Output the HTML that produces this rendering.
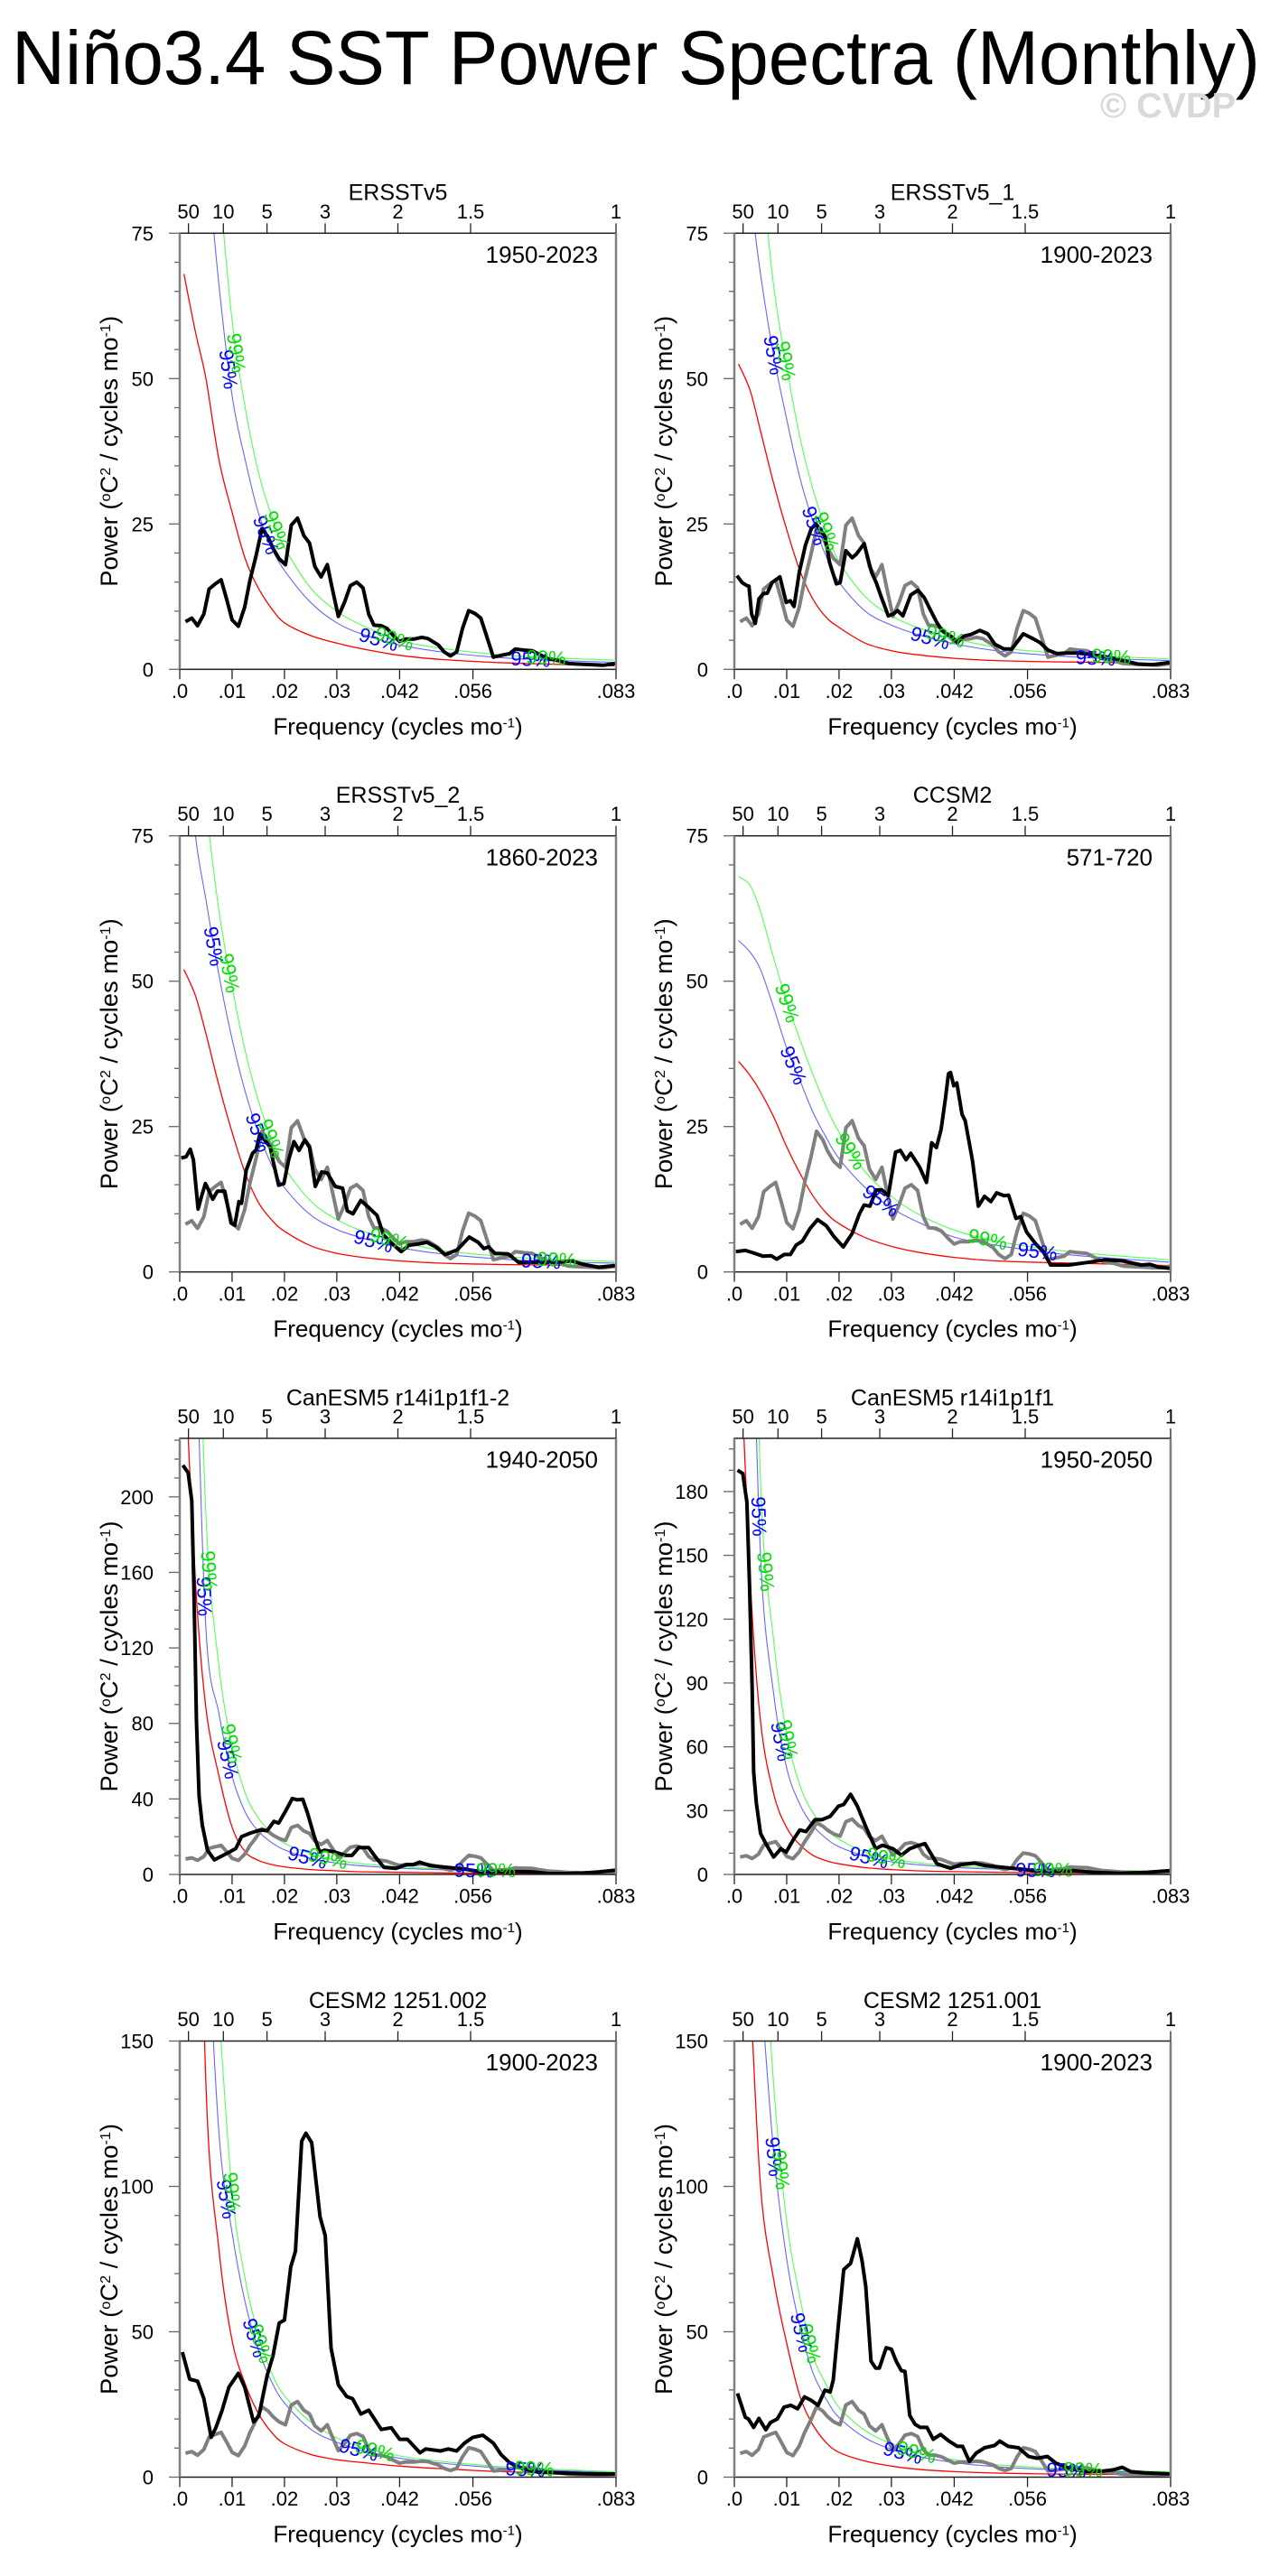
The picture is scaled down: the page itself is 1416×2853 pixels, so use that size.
<!DOCTYPE html>
<html>
<head>
<meta charset="utf-8">
<style>
html,body{margin:0;padding:0;background:#fff;}
svg{display:block;font-family:"Liberation Sans",Arial,sans-serif;}
</style>
</head>
<body>
<svg id="fig" xmlns="http://www.w3.org/2000/svg" width="1416" height="2853" viewBox="0 0 1416 2853">
  <rect x="0" y="0" width="1416" height="2853" fill="#fff"/>
  <text x="13" y="93" font-size="84" textLength="1382" lengthAdjust="spacingAndGlyphs" fill="#000">Niño3.4 SST Power Spectra (Monthly)</text>
  <text x="1218" y="130" font-size="39" font-weight="bold" fill="#d9d9d9" textLength="150" lengthAdjust="spacingAndGlyphs">© CVDP</text>
  <g id="panels"></g>
</svg>
<script>
// ---- shared frequency grid for red-noise / significance curves ----
const gridFreq = [0.0008,0.003,0.005,0.0075,0.01,0.0125,0.015,0.0175,0.02,0.025,0.03,0.035,0.042,0.05,0.06,0.07,0.083];

// ---- reference (ERSSTv5 1950-2023) spectrum, also drawn gray in other panels ----
const refFreq = [0.0011,0.0023,0.0034,0.0046,0.0056,0.0068,0.0079,0.009,0.01,0.0112,0.0124,0.0134,0.0146,0.0157,0.0169,0.0178,0.019,0.0202,0.0213,0.0225,0.0237,0.0248,0.0258,0.027,0.0282,0.0291,0.0303,0.0315,0.0326,0.0338,0.035,0.0361,0.0371,0.0385,0.0396,0.0408,0.042,0.0431,0.0447,0.0462,0.0474,0.0494,0.0505,0.0517,0.0529,0.054,0.0552,0.0564,0.0575,0.0587,0.0599,0.0614,0.063,0.0641,0.0657,0.0673,0.0688,0.0704,0.0723,0.0743,0.0762,0.0786,0.0809,0.0833];
const refPower = [8.2,8.8,7.5,9.5,13.8,14.7,15.4,11.9,8.5,7.4,10.7,15.3,19.6,24.2,22.7,20.8,19,18,24.8,26,23,21.7,17.7,15.9,18,14,9.1,11.6,14.4,15,14,9.5,7.6,7.5,7,5.8,4.8,5.2,5.2,5.5,5.3,4.2,3,2.3,3,7,10.1,9.6,8.8,5.5,2.1,2.4,2.7,3.5,3.3,3.2,2.5,1.8,1.5,1.0,0.9,0.8,0.7,1.0];
const red1 = [68,58,50,36,27,19,14,10.5,8,5.8,4.5,3.5,2.4,1.7,1.2,0.9,0.6];
const blue1 = [null,null,90,66,47,36,27,21,17,11.5,8,6,4.2,3,2.1,1.6,1.2];
const green1 = [null,null,null,84,60,45,34,26.5,21,14,10,7.5,5,3.6,2.6,2,1.6];

// ---- ERSSTv5_1 ----
const p2Freq = [0.0005,0.0015,0.0024,0.0028,0.0033,0.004,0.0047,0.0055,0.0063,0.0072,0.0087,0.0099,0.0107,0.0114,0.0124,0.0136,0.0147,0.0156,0.0164,0.0173,0.0182,0.0195,0.0202,0.0213,0.0225,0.0233,0.0248,0.0262,0.0271,0.028,0.0294,0.0303,0.0312,0.0322,0.0337,0.0351,0.0363,0.0374,0.0386,0.0397,0.0415,0.0426,0.0438,0.0452,0.0469,0.0484,0.0498,0.0515,0.053,0.0552,0.057,0.0584,0.0599,0.0616,0.0633,0.0656,0.0685,0.0714,0.0743,0.0771,0.08,0.0833];
const p2Power = [16.1,14.9,14.4,14.3,9.5,7.9,12.1,13,13.1,14.9,15.9,11.5,11.8,10.8,16.7,21.4,24.2,25,24,22.9,18.3,14.7,14.9,20.4,19.2,19.8,21.6,16.7,14.9,12.6,9.2,9.5,10.1,9.2,12.8,13.6,12.3,10.3,8.2,6.6,5.6,4.6,5.7,6,6.7,6.1,4.3,3.5,3.5,6.1,5.3,4.6,3.3,2.7,2.8,2.8,2.5,2.1,1.5,0.9,0.8,1.2];
const red2 = [52.5,48,41,32,24,17,12.1,9,7.2,4.5,3.2,2.5,1.9,1.5,1.3,1.2,0.9];
const blue2 = [null,82,68,54,43,33,25.5,19.5,15,10,7.6,6,4.4,3.2,2.4,1.9,1.5];
const green2 = [null,null,88,66,52,40,31,24,18.5,12.5,9.2,7.2,5.3,3.8,2.9,2.3,1.8];

// ---- ERSSTv5_2 ----
const p3Freq = [0.0003,0.0012,0.002,0.0026,0.0035,0.0042,0.0049,0.0055,0.0063,0.0072,0.0086,0.0098,0.0105,0.0113,0.0118,0.0127,0.0139,0.0146,0.0153,0.0162,0.0173,0.0179,0.0189,0.0199,0.0208,0.0218,0.0228,0.0239,0.0248,0.0259,0.0271,0.0282,0.0297,0.0311,0.032,0.0331,0.0346,0.0362,0.0377,0.0389,0.0403,0.0423,0.0438,0.0455,0.0472,0.0489,0.0507,0.053,0.0553,0.057,0.0581,0.059,0.0602,0.0627,0.0648,0.0668,0.0696,0.0725,0.0748,0.0771,0.08,0.0833];
const p3Power = [19.6,19.8,21.1,19.3,10.8,13.1,15.2,14.1,12.5,13.9,13.9,8.4,8,12.1,11.8,17.5,20.4,21,23.7,22.7,21.4,18.8,14.9,15.2,19.3,22.4,20.9,22.7,21.4,14.7,17.2,17,14.7,14.4,10.5,10,12.3,11,9.7,6.4,5.1,3.5,4.6,4.8,5.1,4.3,3,3.8,6,5.1,4,4.3,3.2,3.1,1.6,1.7,1.6,1.7,1.9,1.3,0.8,1.1];
const red3 = [52,47.5,41,32,24,17,12,9,7,4.5,3.2,2.5,1.9,1.5,1.3,1.2,1.0];
const blue3 = [95,75,64,51,40,31,24,18.5,14.5,9.8,7.3,5.8,4.2,3.1,2.3,1.8,1.5];
const green3 = [null,null,80,62,49,38,29.5,23,18,12.2,9,7,5.2,3.7,2.8,2.2,1.8];

// ---- CCSM2 ----
const p4Freq = [0.0003,0.0021,0.0035,0.0055,0.007,0.0081,0.0095,0.0107,0.0118,0.013,0.0144,0.0159,0.0176,0.019,0.0208,0.0225,0.0239,0.0248,0.0259,0.0271,0.0282,0.0294,0.0308,0.0317,0.0328,0.0337,0.0354,0.0367,0.0377,0.0386,0.0395,0.0403,0.0409,0.0413,0.0419,0.0425,0.0435,0.0441,0.0455,0.0466,0.0478,0.049,0.0501,0.0515,0.0524,0.0538,0.0547,0.0558,0.0576,0.059,0.0604,0.0639,0.0679,0.0708,0.0742,0.0777,0.0794,0.0811,0.0833];
const p4Power = [3.5,3.7,3.3,2.7,2.8,2.2,3,3,4.6,5.3,7.4,9,7.9,6.1,4.3,6.6,10,11.5,11.3,14.1,14.1,13.1,20.6,20.9,19.3,20.4,18,15.4,22.2,21.4,24.5,29.7,34.1,34.3,32,32.5,27.1,26,19.1,11.3,13,12.1,13.6,13.1,13.2,9.2,9.5,6.9,4.8,3.5,1.2,1.2,1.7,2.1,1.9,1.2,1.3,0.8,0.6];
const red4 = [36.2,33.8,31,26.7,21.5,17,13.1,10.2,8.3,5.9,4.4,3.4,2.5,1.9,1.6,1.4,1.1];
const blue4 = [57,55,52,45.5,38.5,33,27.5,23.2,19.5,14.5,11,8.6,6,4.6,3.3,2.5,1.7];
const green4 = [68,66.5,62,54,46.5,40,34,28.5,24,17.2,13,10,7.2,5.3,3.9,3,2.1];

// ---- CanESM5 r14i1p1f1-2 ----
const p5Freq = [0.0006,0.0016,0.0023,0.0027,0.0032,0.0037,0.0043,0.0053,0.0066,0.0082,0.0095,0.0107,0.0118,0.0134,0.0154,0.0167,0.018,0.0189,0.0202,0.0215,0.0225,0.0235,0.0244,0.0257,0.0267,0.0277,0.0296,0.0316,0.0329,0.0342,0.0361,0.0374,0.039,0.0413,0.0433,0.0446,0.0458,0.0478,0.051,0.0543,0.0575,0.0608,0.064,0.0673,0.0705,0.0737,0.077,0.0802,0.0833];
const p5Power = [216.8,212.8,198,153,81,41.6,26.3,12.8,7.7,10,11.9,13.7,20,21.8,23.6,23.2,28.1,27.2,33.5,40.2,39.5,39.8,32.6,20,11.9,12.8,11.9,10.1,10.1,14.2,14.2,9.2,3.8,3.2,5.2,5.2,6.5,4.7,3.8,2.9,1.4,1.6,1.6,1.4,0.5,0.5,0.7,1.4,2.3];
const red5 = [280,155,88,52,25,12,7.5,5.3,4,2.6,1.9,1.4,1.1,0.8,0.6,0.5,0.5];
const blue5 = [null,300,130,85,52,33,23,17,13,8.5,6,4.5,3.3,2.5,1.9,1.5,1.2];
const green5 = [null,380,190,110,68,43,30,22,16.5,11,7.5,5.6,4.1,3.1,2.3,1.9,1.5];

// ---- CanESM5 r14i1p1f1 ----
const p6Freq = [0.0006,0.0016,0.0024,0.0029,0.0034,0.0037,0.0042,0.005,0.006,0.0075,0.0089,0.0099,0.0112,0.0125,0.0137,0.0154,0.0167,0.0183,0.0199,0.0209,0.0222,0.0235,0.0251,0.0261,0.027,0.0283,0.0303,0.0319,0.0335,0.0348,0.0364,0.0387,0.0413,0.0433,0.0458,0.0478,0.051,0.0543,0.0575,0.0608,0.0647,0.0685,0.0737,0.0789,0.0833];
const p6Power = [190,188.5,175,136,88,48,33.7,19.3,14.5,8.2,12.1,10.5,16.1,20.9,20.1,25.7,25.7,27.3,32.1,32.9,37.7,32.1,22.5,16.9,12.1,13.7,12.1,9,12.1,13.3,14.5,5,2.9,4.6,5.3,4.2,3.4,2.6,1.8,1.4,1.8,1,0.5,1,1.8];
const red6 = [270,140,72,38,22,14,9,6.5,5,3.2,2.3,1.7,1.3,1,0.8,0.7,0.6];
const blue6 = [null,320,150,85,50,33,23,17,13,8.5,6,4.6,3.3,2.5,1.9,1.6,1.3];
const green6 = [null,400,185,110,66,42,29,21.5,16.5,10.5,7.3,5.5,4,3,2.3,1.9,1.5];

// ---- CESM2 1251.002 ----
const p7Freq = [0.0005,0.0019,0.0034,0.0046,0.006,0.0069,0.0081,0.0094,0.0112,0.0124,0.0141,0.0151,0.0167,0.0178,0.019,0.02,0.0212,0.0221,0.0233,0.0241,0.0252,0.0268,0.0278,0.0289,0.0303,0.0319,0.033,0.0346,0.0361,0.0385,0.0404,0.042,0.0435,0.0459,0.047,0.0498,0.0513,0.0529,0.0544,0.056,0.0579,0.0599,0.0614,0.063,0.0653,0.0685,0.0747,0.0786,0.0833];
const p7Power = [43,33.7,33,27,13.7,17,23,31,35.7,31,19,21,35,41.7,53,54,72.3,77.7,115.6,118.3,115,89.6,83,44.4,31.7,27.7,27,21.7,23,16.4,17,13,13,8.4,9.7,9,9.7,9,11.7,13.7,14.4,11.7,7.7,5,3,1.7,1.3,1.1,1.1];
const red7 = [null,300,135,78,47,32,22,15.5,11.5,7.8,6,5,3.8,2.9,2,1.5,1.1];
const blue7 = [null,null,200,118,84,60,44,33,25.5,16.5,12,9,6.5,4.8,3.3,2.4,1.6];
const green7 = [null,null,null,160,98,68,49,36,28,19,13.5,10.3,7.3,5.4,3.8,2.8,1.9];

// ---- CESM2 1251.001 ----
const p8Freq = [0.0006,0.0021,0.0027,0.0037,0.0047,0.006,0.0069,0.0082,0.0095,0.0108,0.0121,0.0134,0.0147,0.016,0.0173,0.0183,0.0189,0.0199,0.0209,0.0222,0.0235,0.0244,0.0251,0.0261,0.027,0.0277,0.029,0.03,0.0309,0.0319,0.0326,0.0335,0.0345,0.0355,0.0368,0.038,0.0394,0.041,0.0426,0.0436,0.0449,0.0462,0.0478,0.0497,0.0507,0.0523,0.0543,0.0562,0.0578,0.0598,0.0614,0.064,0.0673,0.0705,0.0724,0.0741,0.0757,0.0783,0.0833];
const p8Power = [28.8,20.6,20,17.1,20.2,16.3,18.8,20,24.1,24.7,23.5,27.6,26.4,24.7,29.9,29.3,33.4,52.7,71.4,73.5,82,74.4,65.6,39.9,37.5,37.5,44.5,44,39.9,36.6,36.4,21.2,18.2,17.1,17.1,13,14.7,12.4,10.6,10.6,5.4,8.3,10.1,10.9,12.4,10.6,10.1,7.1,6.5,7.1,4.8,3,1.9,2.1,2.5,3.4,1.9,1.5,1.1];
const red8 = [null,170,100,68,46,28,18,12,8.5,5.5,3.8,2.7,1.9,1.4,1.1,1,0.9];
const blue8 = [null,null,170,112,75,52,36,27,20.5,13.5,9.6,7.2,5,3.6,2.6,2,1.6];
const green8 = [null,null,210,135,88,62,42,32,24,16,11.5,8.5,6,4.3,3.1,2.4,1.9];

// ---- axis tick definitions ----
const periodTicks = [50,10,5,3,2,1.5,1];
const periodLabels = ["50","10","5","3","2","1.5","1"];
const freqTicks = [0,0.01,0.02,0.03,0.042,0.056,1/12];
const freqLabels = [".0",".01",".02",".03",".042",".056",".083"];
const panelTitles = ["ERSSTv5","ERSSTv5_1","ERSSTv5_2","CCSM2","CanESM5 r14i1p1f1-2","CanESM5 r14i1p1f1","CESM2 1251.002","CESM2 1251.001"];
const panelPeriods = ["1950-2023","1900-2023","1860-2023","571-720","1940-2050","1950-2050","1900-2023","1900-2023"];
const panelYMax = [75,75,75,75,231,205,150,150];
const panelYMajor = [25,25,25,25,40,30,50,50];
const panelYMinor = [5,5,5,5,10,10,10,10];

// ---- layout ----
const COLS=[199,813], ROWS=[258.3,925.7,1593,2260.5], PW=483, PH=483, FMAX=1/12;
const NS='http://www.w3.org/2000/svg';
const root=document.getElementById('panels');
function mk(tag,attrs,parent){const e=document.createElementNS(NS,tag);for(const k in attrs)e.setAttribute(k,attrs[k]);(parent||root).appendChild(e);return e;}

const panels=[
 {f:refFreq,p:refPower,gray:false,r:red1,b:blue1,g:green1,l95:[0.0093,0.0165,0.038,0.067],l99:[0.0108,0.0185,0.041,0.070]},
 {f:p2Freq,p:p2Power,gray:true,r:red2,b:blue2,g:green2,l95:[0.0075,0.0153,0.0374,0.069],l99:[0.0098,0.0176,0.0403,0.072]},
 {f:p3Freq,p:p3Power,gray:true,r:red3,b:blue3,g:green3,l95:[0.0065,0.015,0.037,0.069],l99:[0.0095,0.0175,0.040,0.072]},
 {f:p4Freq,p:p4Power,gray:true,r:red4,b:blue4,g:green4,l95:[0.0113,0.028,0.0579],l99:[0.0101,0.0222,0.0484]},
 {f:p5Freq,p:p5Power,gray:true,r:red5,b:blue5,g:green5,l95:[0.0047,0.0092,0.0244,0.0562],l99:[0.0056,0.0099,0.0283,0.0604]},
 {f:p6Freq,p:p6Power,gray:true,r:red6,b:blue6,g:green6,l95:[0.0047,0.0089,0.0257,0.0575],l99:[0.006,0.0102,0.029,0.0608]},
 {f:p7Freq,p:p7Power,gray:true,r:red7,b:blue7,g:green7,l95:[0.0089,0.0143,0.0342,0.066],l99:[0.01,0.0155,0.0373,0.0677]},
 {f:p8Freq,p:p8Power,gray:true,r:red8,b:blue8,g:green8,l95:[0.0076,0.0128,0.0322,0.0634],l99:[0.0089,0.0144,0.0348,0.0666]}
];

function linePath(pts){return pts.map((p,i)=>(i?'L':'M')+p[0].toFixed(1)+' '+p[1].toFixed(1)).join(' ');}
function smoothPath(pts){
  let d='M'+pts[0][0].toFixed(1)+' '+pts[0][1].toFixed(1);
  for(let i=0;i<pts.length-1;i++){
    const p0=pts[i-1]||pts[i],p1=pts[i],p2=pts[i+1],p3=pts[i+2]||pts[i+1];
    const c1=[p1[0]+(p2[0]-p0[0])/6,p1[1]+(p2[1]-p0[1])/6];
    const c2=[p2[0]-(p3[0]-p1[0])/6,p2[1]-(p3[1]-p1[1])/6];
    d+=' C'+c1[0].toFixed(1)+' '+c1[1].toFixed(1)+' '+c2[0].toFixed(1)+' '+c2[1].toFixed(1)+' '+p2[0].toFixed(1)+' '+p2[1].toFixed(1);
  }
  return d;
}

panels.forEach((P,idx)=>{
  const x0=COLS[idx%2], y0=ROWS[Math.floor(idx/2)];
  const ymax=panelYMax[idx];
  const xs=f=>x0+f/FMAX*PW;
  const ys=v=>y0+PH-v/ymax*PH;
  const g=mk('g',{});
  
  
  const cid='clip'+idx;
  const cp=mk('clipPath',{id:cid},g);
  mk('rect',{x:x0,y:y0,width:PW,height:PH},cp);

  const tt=mk('text',{x:x0+PW/2,y:y0-36.6,'font-size':25,'text-anchor':'middle'},g);
  tt.textContent=panelTitles[idx];
  
  
  const pt=mk('text',{x:x0+PW-20,y:y0+32.6,'font-size':26,'text-anchor':'end'},g);
  pt.textContent=panelPeriods[idx];
  
  

  periodTicks.forEach((per,i)=>{
    const x=xs(1/(12*per));
    const tk=mk('line',{x1:x,x2:x,y1:y0,y2:y0-11,stroke:'#222','stroke-width':1.3},g);
    
    
    const tl=mk('text',{x:x,y:y0-16.5,'font-size':22,'text-anchor':'middle'},g);
    tl.textContent=periodLabels[i];
    
    
  });
  freqTicks.forEach((fq,i)=>{
    const x=xs(fq);
    const tk=mk('line',{x1:x,x2:x,y1:y0+PH,y2:y0+PH+11,stroke:'#222','stroke-width':1.3},g);
    
    
    const tl=mk('text',{x:x,y:y0+PH+31.7,'font-size':22,'text-anchor':'middle'},g);
    tl.textContent=freqLabels[i];
    
    
  });
  const xl=mk('text',{x:x0+PW/2,y:y0+PH+72,'font-size':26,'text-anchor':'middle'},g);
  xl.innerHTML='Frequency (cycles mo<tspan baseline-shift="super" font-size="15">-1</tspan>)';
  
  

  const minor=panelYMinor[idx], major=panelYMajor[idx];
  for(let v=0;v<=ymax+0.001;v+=minor){
    const isMaj=Math.abs(v/major-Math.round(v/major))<1e-6;
    const y=ys(v);
    const tk=mk('line',{x1:x0,x2:x0-(isMaj?12:6),y1:y,y2:y,stroke:'#666','stroke-width':1.3},g);
    
    
    if(isMaj){
      const tl=mk('text',{x:x0-29,y:y+8,'font-size':22,'text-anchor':'end'},g);
      tl.textContent=String(v);
      
      
    }
  }
  const ylx=x0-69, yly=y0+PH/2;
  const yl=mk('text',{x:ylx,y:yly,'font-size':27,'text-anchor':'middle',textLength:300,lengthAdjust:'spacingAndGlyphs',transform:'rotate(-90 '+ylx+' '+yly+')'},g);
  yl.innerHTML='Power (<tspan baseline-shift="super" font-size="16">o</tspan>C<tspan baseline-shift="super" font-size="16">2</tspan> / cycles mo<tspan baseline-shift="super" font-size="16">-1</tspan>)';
  
  

  const data=mk('g',{'clip-path':'url(#'+cid+')'},g);
  
  
  function gridPts(arr){const o=[];arr.forEach((v,i)=>{if(v!==null)o.push([xs(gridFreq[i]),ys(v)]);});return o;}
  const rp=mk('path',{d:smoothPath(gridPts(P.r)),fill:'none',stroke:'#ff0000','stroke-width':1.3},data);
  
  
  const bp=mk('path',{d:smoothPath(gridPts(P.b)),fill:'none',stroke:'#6666ff','stroke-width':1.1},data);
  
  
  const gp=mk('path',{d:smoothPath(gridPts(P.g)),fill:'none',stroke:'#55ff55','stroke-width':1.1},data);
  
  
  if(P.gray){
    const gr=mk('path',{d:linePath(refFreq.map((f,i)=>[xs(f),ys(refPower[i])])),fill:'none',stroke:'#808080','stroke-width':4,'stroke-linejoin':'round'},data);
    
    
  }
  const bl=mk('path',{d:linePath(P.f.map((f,i)=>[xs(f),ys(P.p[i])])),fill:'none',stroke:'#000','stroke-width':4,'stroke-linejoin':'round'},data);
  
  

  function placeLabels(path,freqs,txt,color){
    const L=path.getTotalLength();
    freqs.forEach(fq=>{
      const tx=xs(fq);
      let lo=0,hi=L;
      for(let k=0;k<40;k++){const m=(lo+hi)/2;if(path.getPointAtLength(m).x<tx)lo=m;else hi=m;}
      const p=path.getPointAtLength(lo);
      if(p.y<y0+8||p.y>y0+PH)return;
      const a=path.getPointAtLength(Math.max(0,lo-6)),b=path.getPointAtLength(Math.min(L,lo+6));
      const ang=Math.atan2(b.y-a.y,b.x-a.x)*180/Math.PI;
      const t=mk('text',{x:0,y:0,'font-size':22,fill:color,'text-anchor':'middle','dominant-baseline':'central',transform:'translate('+p.x.toFixed(1)+' '+p.y.toFixed(1)+') rotate('+ang.toFixed(1)+')'},g);
      t.textContent=txt;
      
      
    });
  }
  placeLabels(bp,P.l95,'95%','#0000ff');
  placeLabels(gp,P.l99,'99%','#00dd00');

  const fr=mk('rect',{x:x0,y:y0,width:PW,height:PH,fill:'none',stroke:'#222','stroke-width':1.5},g);
  
  
  const ls=mk('line',{x1:x0,x2:x0,y1:y0,y2:y0+PH,stroke:'#808080','stroke-width':2.5},g);
  
  
  const rs=mk('line',{x1:x0+PW,x2:x0+PW,y1:y0,y2:y0+PH,stroke:'#808080','stroke-width':2.5},g);
  
  
});
</script>
</body>
</html>
